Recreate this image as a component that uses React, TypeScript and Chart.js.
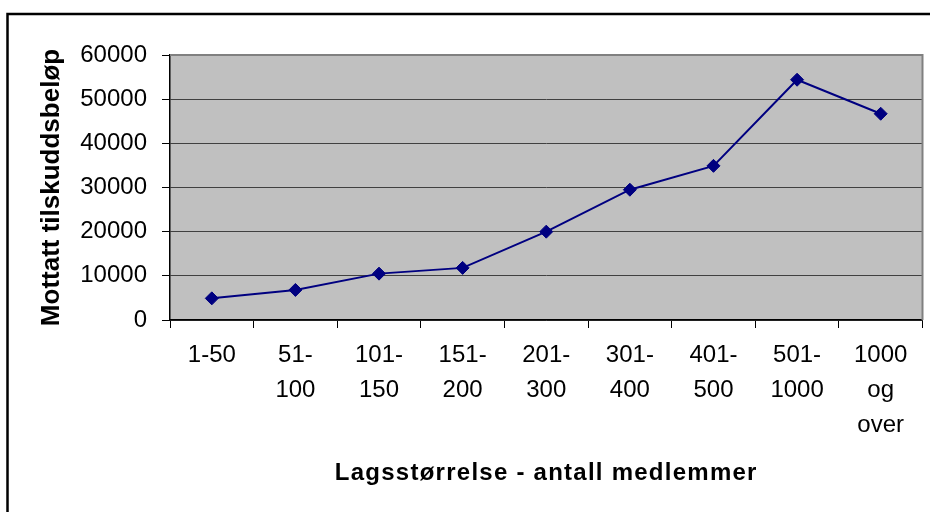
import React, { useEffect, useRef } from 'react';
import { Chart, registerables } from 'chart.js';

Chart.register(...registerables);

const categories: (string | string[])[] = [
  '1-50',
  ['51-', '100'],
  ['101-', '150'],
  ['151-', '200'],
  ['201-', '300'],
  ['301-', '400'],
  ['401-', '500'],
  ['501-', '1000'],
  ['1000', 'og', 'over'],
];
const amounts = [4900, 6800, 10500, 11800, 20000, 29500, 34900, 54400, 46700];
const yMin = 0;
const yMax = 60000;
const yStep = 10000;
const yTitle = 'Mottatt tilskuddsbeløp';
const xTitle = 'Lagsstørrelse - antall medlemmer';

const FONT = "'Liberation Sans', Arial, sans-serif";

const decorPlugin = {
  id: 'decor',
  beforeDraw(chart: any) {
    const { ctx, chartArea } = chart;
    ctx.save();
    ctx.fillStyle = '#ffffff';
    ctx.fillRect(0, 0, chart.width, chart.height);
    ctx.fillStyle = '#C0C0C0';
    ctx.fillRect(chartArea.left, chartArea.top, chartArea.right - chartArea.left, chartArea.bottom - chartArea.top);
    ctx.restore();
  },
  beforeDatasetsDraw(chart: any) {
    const { ctx, chartArea } = chart;
    ctx.save();
    ctx.strokeStyle = '#808080';
    ctx.lineWidth = 2;
    ctx.beginPath();
    ctx.moveTo(chartArea.left, chartArea.top);
    ctx.lineTo(chartArea.right, chartArea.top);
    ctx.lineTo(chartArea.right, chartArea.bottom);
    ctx.stroke();
    ctx.restore();
  },
  afterDraw(chart: any) {
    const { ctx, chartArea } = chart;
    ctx.save();
    ctx.fillStyle = '#000';
    // y title
    ctx.font = `bold 26px ${FONT}`;
    ctx.textAlign = 'center';
    ctx.textBaseline = 'middle';
    ctx.translate(52, (chartArea.top + chartArea.bottom) / 2);
    ctx.rotate(-Math.PI / 2);
    ctx.fillText(yTitle, 0, 0);
    ctx.restore();

    ctx.save();
    ctx.fillStyle = '#000';
    ctx.font = `bold 24px ${FONT}`;
    (ctx as any).letterSpacing = '1.25px';
    ctx.textAlign = 'center';
    ctx.textBaseline = 'alphabetic';
    ctx.fillText(xTitle, (chartArea.left + chartArea.right) / 2, 480);
    ctx.restore();

    // outer frame
    ctx.save();
    ctx.strokeStyle = '#000';
    ctx.lineWidth = 2.5;
    ctx.strokeRect(7.5, 14, 2000, 2000);
    ctx.restore();
  },
};

export default function App() {
  const canvasRef = useRef<HTMLCanvasElement | null>(null);

  useEffect(() => {
    if (!canvasRef.current) return;
    const chart = new Chart(canvasRef.current, {
      type: 'line',
      data: {
        labels: categories,
        datasets: [
          {
            data: amounts,
            borderColor: '#000080',
            backgroundColor: '#000080',
            borderWidth: 2,
            pointStyle: 'rectRot',
            pointRadius: 6.5,
            pointHoverRadius: 6.5,
            pointBackgroundColor: '#000080',
            pointBorderColor: '#000080',
            pointBorderWidth: 1,
            tension: 0,
            fill: false,
          },
        ],
      },
      options: {
        responsive: false,
        animation: false,
        devicePixelRatio: 1,
        layout: { padding: { top: 55, right: 6, left: 0, bottom: 0 } },
        plugins: {
          legend: { display: false },
          tooltip: { enabled: false },
          title: { display: false },
        },
        scales: {
          x: {
            type: 'category',
            offset: true,
            grid: {
              offset: true,
              drawOnChartArea: false,
              drawTicks: true,
              tickLength: 8,
              tickColor: '#000',
              color: '#000',
              lineWidth: 1,
            },
            border: { color: '#000', width: 1.5 },
            ticks: {
              color: '#000',
              font: { family: FONT, size: 24, lineHeight: 35 / 24 },
              padding: 10,
              maxRotation: 0,
              minRotation: 0,
              autoSkip: false,
            },
            afterFit: (s: any) => {
              s.height = 192;
            },
          },
          y: {
            min: yMin,
            max: yMax,
            ticks: {
              stepSize: yStep,
              color: '#000',
              font: { family: FONT, size: 24 },
              padding: 15,
              callback: (v: any) => String(v),
            },
            grid: {
              color: '#404040',
              tickColor: '#000',
              tickLength: 8,
              lineWidth: 1,
            },
            border: { color: '#000', width: 1.5 },
            afterFit: (s: any) => {
              s.width = 170;
            },
          },
        },
      },
      plugins: [decorPlugin],
    } as any);
    return () => chart.destroy();
  }, []);

  return (
    <div style={{ position: 'fixed', left: 0, top: 0, width: 930, height: 512, background: '#fff' }}>
      <canvas ref={canvasRef} width={930} height={512} style={{ display: 'block', width: 930, height: 512 }} />
    </div>
  );
}
